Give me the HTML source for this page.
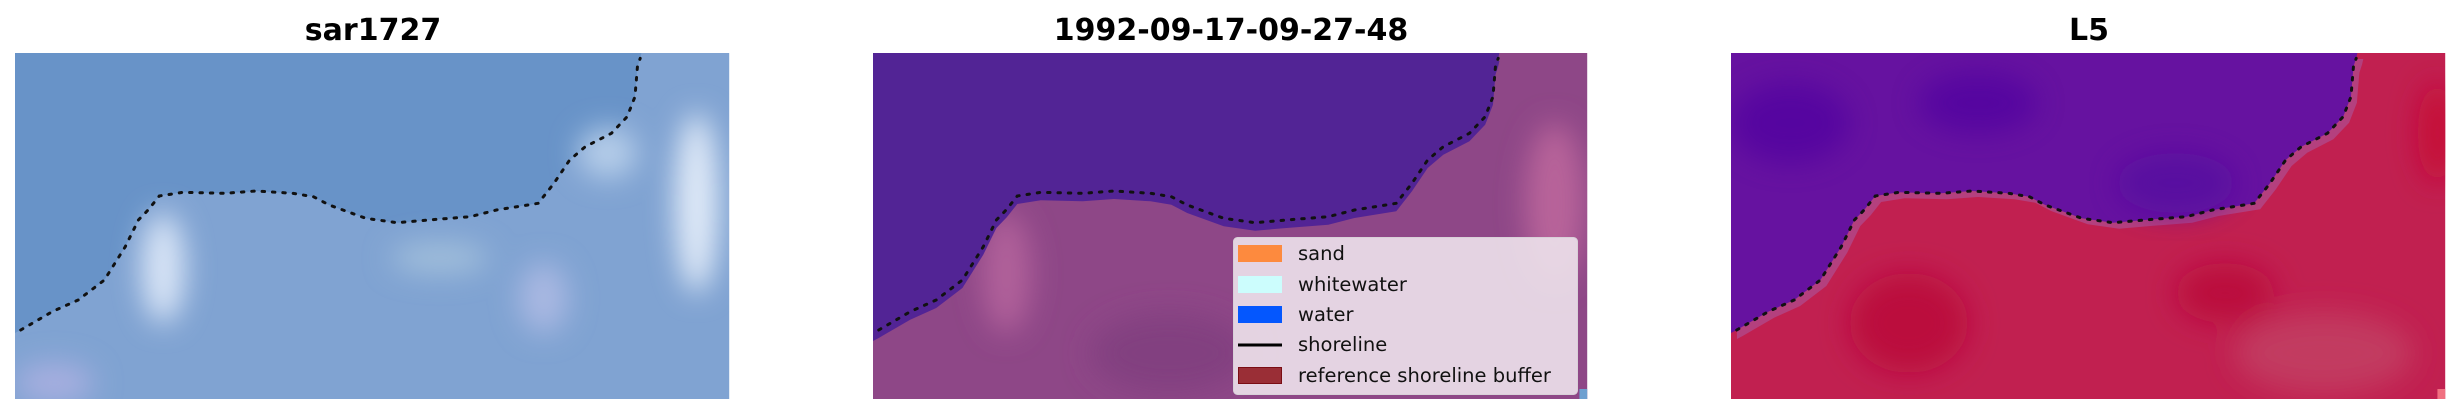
<!DOCTYPE html>
<html><head><meta charset="utf-8"><style>
html,body{margin:0;padding:0;background:#fff;}
svg{display:block;}
text{font-family:"DejaVu Sans","Liberation Sans",sans-serif;}
</style></head><body>
<svg width="2460" height="414" viewBox="0 0 2460 414" xmlns="http://www.w3.org/2000/svg">
<defs>
<filter id="bl" x="-20%" y="-20%" width="140%" height="140%"><feGaussianBlur stdDeviation="14"/></filter>
<clipPath id="c"><rect x="0" y="0" width="723" height="346"/></clipPath>
<path id="shore" d="M5.8,277 L37.6,258.7 L64,247 L90.5,227 L111.6,193.7 L124.9,167 L135.4,156.3 L146,143 L169.8,139.3 L212.2,140.3 L243.9,138 L281,140.3 L302,143.7 L318,152 L355,165.3 L386.8,169.7 L418.5,167 L460.8,163.7 L487.3,157 L529.6,150.3 L545.5,130.3 L561.4,107 L577.2,93.7 L603.7,80.3 L619.6,63.7 L627.5,43.7 L630,13.7 L632.8,5.3"/>
<path id="water" d="M0,0 L634,0 L632.8,5.3 L630,13.7 L627.5,43.7 L619.6,63.7 L603.7,80.3 L577.2,93.7 L561.4,107 L545.5,130.3 L529.6,150.3 L487.3,157 L460.8,163.7 L418.5,167 L386.8,169.7 L355,165.3 L318,152 L302,143.7 L281,140.3 L243.9,138 L212.2,140.3 L169.8,139.3 L146,143 L135.4,156.3 L124.9,167 L111.6,193.7 L90.5,227 L64,247 L37.6,258.7 L5.8,277 L0,280 Z"/>
</defs>

<text x="373" y="40" font-size="30" font-weight="bold" text-anchor="middle">sar1727</text>
<text x="1231" y="40" font-size="30" font-weight="bold" text-anchor="middle">1992-09-17-09-27-48</text>
<text x="2089" y="40" font-size="30" font-weight="bold" text-anchor="middle">L5</text>

<!-- Panel 1 -->
<g transform="translate(15,53) scale(0.988,1)">
<g clip-path="url(#c)">
<rect width="723" height="346" fill="#80a3d2"/>
<use href="#water" fill="#6893c8"/>
<g filter="url(#bl)">
<ellipse cx="150" cy="215" rx="22" ry="55" fill="#d8e4f6"/>
<ellipse cx="535" cy="245" rx="25" ry="35" fill="#a9b8e2"/>
<ellipse cx="690" cy="150" rx="22" ry="90" fill="#e0eaf8"/>
<ellipse cx="600" cy="100" rx="30" ry="25" fill="#b5cde9"/>
<ellipse cx="430" cy="205" rx="50" ry="15" fill="#a2bfdb"/>
<ellipse cx="40" cy="330" rx="40" ry="20" fill="#a7afe0"/>
</g>
</g>
<use href="#shore" fill="none" stroke="#111" stroke-width="3" stroke-dasharray="2.5,8" stroke-linecap="round"/>
</g>

<!-- Panel 2 -->
<g transform="translate(873,53) scale(0.988,1)">
<g clip-path="url(#c)">
<rect width="723" height="346" fill="#8e4787"/>
<g filter="url(#bl)">
<ellipse cx="135" cy="220" rx="25" ry="60" fill="#b0609a"/>
<ellipse cx="690" cy="150" rx="30" ry="80" fill="#b8649a"/>
<ellipse cx="300" cy="300" rx="80" ry="40" fill="#823f80"/>
</g>
<use href="#water" fill="#522495" transform="translate(0,8)"/>
<use href="#water" fill="#522495"/>
<rect x="715" y="336" width="8" height="10" fill="#6ea0d0"/>
</g>
<use href="#shore" fill="none" stroke="#111" stroke-width="3" stroke-dasharray="2.5,8" stroke-linecap="round"/>
</g>

<!-- Legend -->
<rect x="1233.5" y="237.5" width="344" height="157" rx="4" fill="#ebdfe9" fill-opacity="0.92" stroke="#d8d0d8"/>
<rect x="1238" y="245" width="44" height="17" fill="#fd8a3e"/>
<rect x="1238" y="276" width="44" height="17" fill="#ccfdfd"/>
<rect x="1238" y="306" width="44" height="17" fill="#0457fe"/>
<line x1="1238" y1="345" x2="1282" y2="345" stroke="#000" stroke-width="3"/>
<rect x="1238.5" y="367.5" width="43" height="16" fill="#9a2e36" stroke="#7a0d14"/>
<g font-size="19.5" fill="#111">
<text x="1298" y="260">sand</text>
<text x="1298" y="291">whitewater</text>
<text x="1298" y="321">water</text>
<text x="1298" y="351">shoreline</text>
<text x="1298" y="382">reference shoreline buffer</text>
</g>

<!-- Panel 3 -->
<g transform="translate(1731,53) scale(0.988,1)">
<g clip-path="url(#c)">
<rect width="723" height="346" fill="#c12050"/>
<g filter="url(#bl)">
<ellipse cx="180" cy="270" rx="60" ry="50" fill="#bb0a3c"/>
<ellipse cx="500" cy="240" rx="50" ry="30" fill="#bb0a3c"/>
<ellipse cx="715" cy="80" rx="20" ry="50" fill="#c60838"/>
<ellipse cx="600" cy="300" rx="90" ry="40" fill="#c23a60"/>
</g>
<use href="#water" fill="#b4407e" transform="translate(6,6)"/>
<use href="#water" fill="#6612a0"/>
<g filter="url(#bl)" opacity="0.7">
<ellipse cx="60" cy="70" rx="60" ry="40" fill="#5006a0"/>
<ellipse cx="250" cy="50" rx="60" ry="30" fill="#5006a0"/>
<ellipse cx="450" cy="130" rx="60" ry="30" fill="#5208a0"/>
</g>
<rect x="715" y="336" width="8" height="10" fill="#f07080"/>
</g>
<use href="#shore" fill="none" stroke="#111" stroke-width="3" stroke-dasharray="2.5,8" stroke-linecap="round"/>
</g>
</svg>
</body></html>
